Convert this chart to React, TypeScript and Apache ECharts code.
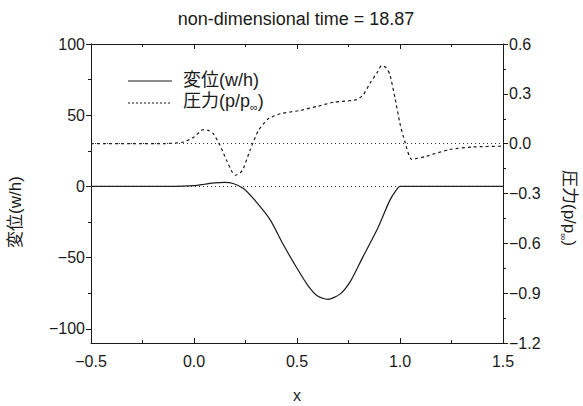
import React, { useEffect, useRef } from "react";
import * as echarts from "echarts";

// Displacement w/h (left axis)
const dispX = [-0.5, -0.3, -0.1, 0.0, 0.05, 0.1, 0.15, 0.19, 0.24, 0.3, 0.37, 0.43, 0.5, 0.555, 0.6, 0.65, 0.71, 0.76, 0.82, 0.89, 0.95, 0.98, 1.0, 1.1, 1.3, 1.5];
const dispW = [0, 0, 0, 0.5, 1.5, 2.5, 2.8, 2.0, -1.5, -10.5, -23.5, -40, -57.5, -70, -77, -79.3, -75.5, -66.5, -49.5, -30, -10, -3, 0, 0, 0, 0];

// Pressure p/p∞ (right axis)
const presX = [-0.5, -0.3, -0.15, -0.05, 0.0, 0.045, 0.07, 0.094, 0.126, 0.158, 0.185, 0.2, 0.225, 0.24, 0.272, 0.313, 0.36, 0.42, 0.515, 0.6, 0.68, 0.79, 0.822, 0.855, 0.89, 0.91, 0.93, 0.95, 0.975, 1.0, 1.024, 1.057, 1.13, 1.24, 1.35, 1.5];
const presP = [0, 0, 0, 0.01, 0.04, 0.085, 0.08, 0.06, -0.01, -0.1, -0.17, -0.19, -0.175, -0.148, -0.04, 0.08, 0.15, 0.18, 0.2, 0.225, 0.25, 0.265, 0.295, 0.365, 0.43, 0.47, 0.46, 0.42, 0.28, 0.12, 0.01, -0.095, -0.075, -0.035, -0.02, -0.015];

const leftMajor = [-100, -50, 0, 50, 100];
const leftMinor = [-75, -25, 25, 75];

const TITLE = "non-dimensional time = 18.87";
const FONT = "'Liberation Sans', 'Noto Sans CJK JP', sans-serif";
const INK = "#1a1a1a";

const minus = (s: string) => s.replace("-", "\u2212");

export default function App() {
  const ref = useRef<HTMLDivElement>(null);
  useEffect(() => {
    if (!ref.current) return;
    const chart = echarts.init(ref.current, undefined, { renderer: "svg" });
    const grid = { left: 91, right: 80, top: 44, bottom: 63 };
    const lblStyle = { color: INK, fontSize: 16, fontFamily: FONT };
    chart.setOption({
      animation: false,
      backgroundColor: "#ffffff",
      grid,
      xAxis: [
        {
          type: "value",
          min: -0.5,
          max: 1.5,
          interval: 0.5,
          position: "bottom",
          axisLine: { show: true, onZero: false, lineStyle: { color: INK, width: 1 } },
          axisTick: { show: true, inside: true, length: 5, lineStyle: { color: INK } },
          minorTick: { show: true, splitNumber: 2, length: 3, lineStyle: { color: INK } },
          splitLine: { show: false },
          axisLabel: { ...lblStyle, margin: 10, formatter: (v: number) => minus(v.toFixed(1)) },
        },
        {
          type: "value",
          min: -0.5,
          max: 1.5,
          interval: 0.5,
          position: "top",
          axisLine: { show: true, onZero: false, lineStyle: { color: INK, width: 1 } },
          axisTick: { show: true, inside: true, length: 5, lineStyle: { color: INK } },
          minorTick: { show: true, splitNumber: 2, length: 3, lineStyle: { color: INK } },
          splitLine: { show: false },
          axisLabel: { show: false },
        },
      ],
      yAxis: [
        {
          type: "value",
          min: -110,
          max: 100,
          position: "left",
          axisLine: { show: true, onZero: false, lineStyle: { color: INK, width: 1 } },
          axisTick: { show: true, inside: false, length: 5, customValues: leftMajor, lineStyle: { color: INK } },
          splitLine: { show: false },
          axisLabel: { ...lblStyle, margin: 6, customValues: leftMajor, formatter: (v: number) => minus(String(v)) },
        },
        {
          type: "value",
          min: -1.2,
          max: 0.6,
          interval: 0.3,
          position: "right",
          axisLine: { show: true, onZero: false, lineStyle: { color: INK, width: 1 } },
          axisTick: { show: true, inside: false, length: 5, lineStyle: { color: INK } },
          minorTick: { show: true, splitNumber: 2, length: 3, lineStyle: { color: INK } },
          splitLine: { show: false },
          axisLabel: { ...lblStyle, margin: 6, formatter: (v: number) => minus(v.toFixed(1)) },
        },
        {
          type: "value",
          min: -110,
          max: 100,
          position: "left",
          offset: 0,
          axisLine: { show: false, onZero: false },
          axisTick: { show: true, inside: false, length: 3, customValues: leftMinor, lineStyle: { color: INK } },
          splitLine: { show: false },
          axisLabel: { show: false },
        },
      ],
      series: [
        {
          name: "変位(w/h)",
          type: "line",
          xAxisIndex: 0,
          yAxisIndex: 0,
          data: dispX.map((x, i) => [x, dispW[i]]),
          showSymbol: false,
          smooth: 0.25,
          lineStyle: { color: INK, width: 1.2, type: "solid" },
          markLine: {
            silent: true,
            symbol: "none",
            label: { show: false },
            lineStyle: { color: "#333", width: 1, type: [1, 3] },
            data: [{ yAxis: 0 }],
          },
          z: 3,
        },
        {
          name: "圧力(p/p∞)",
          type: "line",
          xAxisIndex: 0,
          yAxisIndex: 1,
          data: presX.map((x, i) => [x, presP[i]]),
          showSymbol: false,
          smooth: 0.2,
          lineStyle: { color: INK, width: 1.2, type: [3, 3] },
          markLine: {
            silent: true,
            symbol: "none",
            label: { show: false },
            lineStyle: { color: "#333", width: 1, type: [1, 3] },
            data: [{ yAxis: 0 }],
          },
          z: 3,
        },
      ],
      graphic: [
        {
          type: "text",
          x: 296,
          y: 19,
          style: { text: TITLE, fontSize: 18, fontFamily: FONT, fill: INK, align: "center", verticalAlign: "middle" },
        },
        {
          type: "line",
          shape: { x1: 128, y1: 81, x2: 172, y2: 81 },
          style: { stroke: INK, lineWidth: 1.2 },
        },
        {
          type: "text",
          x: 183,
          y: 80,
          style: { text: "変位(w/h)", fontSize: 18, fontFamily: FONT, fill: INK, align: "left", verticalAlign: "middle" },
        },
        {
          type: "line",
          shape: { x1: 128, y1: 103, x2: 172, y2: 103 },
          style: { stroke: INK, lineWidth: 1.2, lineDash: [2, 2] },
        },
        {
          type: "text",
          x: 183,
          y: 101,
          style: {
            text: "{a|圧力(p/p}{s|∞}{a|)}",
            fontFamily: FONT,
            fill: INK,
            align: "left",
            verticalAlign: "middle",
            rich: {
              a: { fontSize: 18, fontFamily: FONT, fill: INK, lineHeight: 22 },
              s: { fontSize: 11, fontFamily: FONT, fill: INK, lineHeight: 22, verticalAlign: "bottom", padding: [10, 0, 0, 0] },
            },
          },
        },
        {
          type: "text",
          x: 15,
          y: 212,
          rotation: Math.PI / 2,
          style: { text: "変位(w/h)", fontSize: 17, fontFamily: FONT, fill: INK, align: "center", verticalAlign: "middle" },
        },
        {
          type: "text",
          x: 569,
          y: 208,
          rotation: -Math.PI / 2,
          style: {
            text: "{a|圧力(p/p}{s|∞}{a|)}",
            fontFamily: FONT,
            fill: INK,
            align: "center",
            verticalAlign: "middle",
            rich: {
              a: { fontSize: 17, fontFamily: FONT, fill: INK, lineHeight: 22 },
              s: { fontSize: 10, fontFamily: FONT, fill: INK, lineHeight: 22, verticalAlign: "bottom", padding: [10, 0, 0, 0] },
            },
          },
        },
        {
          type: "text",
          x: 297,
          y: 395,
          style: { text: "x", fontSize: 16, fontFamily: FONT, fill: INK, align: "center", verticalAlign: "middle" },
        },
      ],
    });
    return () => chart.dispose();
  }, []);
  return <div ref={ref} style={{ position: "fixed", left: 0, top: 0, width: 583, height: 406 }} />;
}
